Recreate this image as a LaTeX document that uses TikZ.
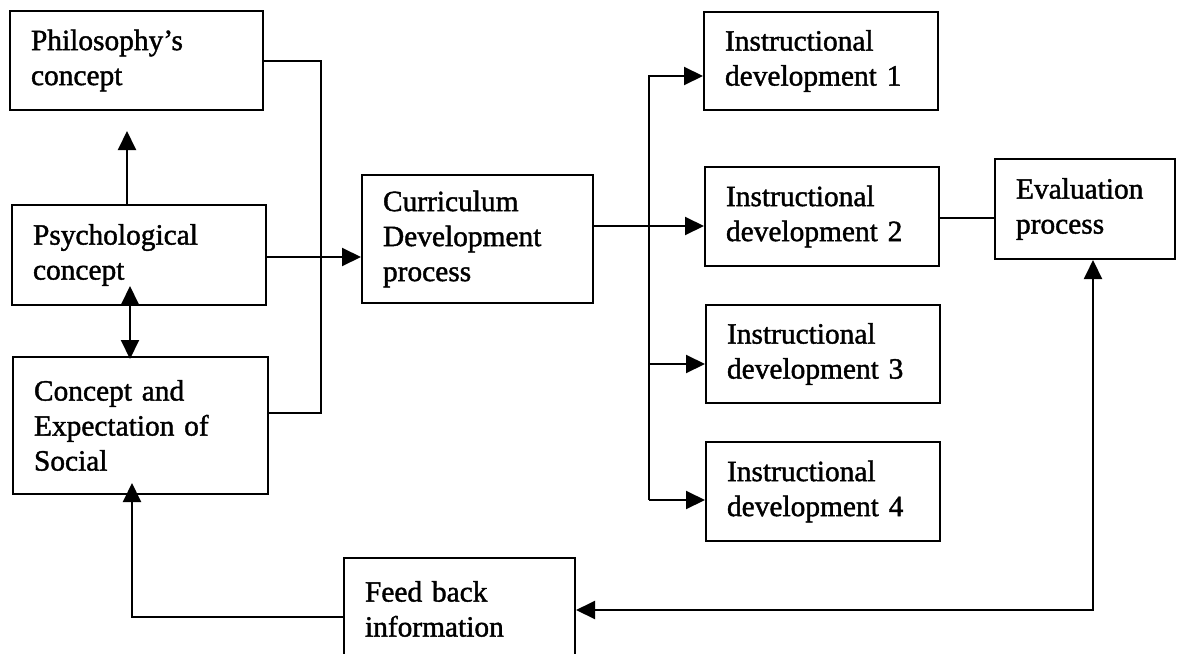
\documentclass[tikz,border=0pt]{standalone}
\usepackage{fontspec}
\setmainfont[FakeBold=1.4]{Liberation Serif}
\usetikzlibrary{arrows.meta,calc}
\tikzset{
  box/.style={draw, line width=2pt, rectangle, align=left, inner xsep=21pt, inner ysep=0pt,
    font=\fontsize{29.4}{35}\selectfont},
  conn/.style={line width=2pt},
  arr/.style={conn, -{Triangle[length=19pt,width=18pt]}},
  arrs/.style={conn, {Triangle[length=19pt,width=18pt]}-{Triangle[length=19pt,width=18pt]}},
}
\begin{document}
\begin{tikzpicture}[x=1pt, y=-1pt]
\useasboundingbox (0,0) rectangle (1177,653);
% left column
\node[box, minimum width=253pt, minimum height=99pt, text width=211pt] (phil) at (136.5,60.5) {Philosophy’s\\concept};
\node[box, minimum width=254pt, minimum height=100pt, text width=212pt] (psych) at (139,255) {Psychological\\concept};
\node[box, minimum width=255pt, minimum height=137pt, text width=213pt] (social) at (140.5,425.5) {Concept and\\Expectation of\\Social};
% middle
\node[box, minimum width=231pt, minimum height=128pt, text width=189pt] (curr) at (477.5,239) {Curriculum\\Development\\process};
\node[box, minimum width=231pt, minimum height=102pt, text width=189pt] (feed) at (459.5,609) {Feed back\\information};
% instructional
\node[box, minimum width=234pt, minimum height=98pt, text width=192pt] (id1) at (821,61) {Instructional\\development 1};
\node[box, minimum width=234pt, minimum height=99pt, text width=192pt] (id2) at (822,216.5) {Instructional\\development 2};
\node[box, minimum width=234pt, minimum height=98pt, text width=192pt] (id3) at (823,354) {Instructional\\development 3};
\node[box, minimum width=234pt, minimum height=99pt, text width=192pt] (id4) at (823,491.5) {Instructional\\development 4};
\node[box, minimum width=180pt, minimum height=100pt, text width=138pt] (eval) at (1085,209) {Evaluation\\process};
% connectors left
\coordinate (j1) at (321,413);
\draw[conn] (phil.east) -| (j1) -- (j1 -| social.east);
\draw[arr] ($(psych.east)+(0,2)$) -- ($(curr.west)+(0,18)$);
\draw[arr] ($(psych.north)+(-12,0)$) -- ($(phil.south)+(-9.5,20)$);
\draw[arrs] ($(psych.south)+(-9,-20)$) -- ($(social.north)+(-10.5,3)$);
\draw[arr] ($(feed.west)+(0,8)$) -| ($(social.south)+(-8.5,-12)$);
% branches
\draw[arr] ($(curr.east)+(0,-13)$) -- ($(id2.west)+(0,9.5)$);
\coordinate (bt) at (649,76);
\coordinate (b3) at (649,364);
\coordinate (bb) at (649,500);
\draw[arr] (bb) -- (bt) -- (bt -| id1.west);
\draw[arr] (b3) -- (b3 -| id3.west);
\draw[arr] (bb) -- (bb -| id4.west);
\coordinate (e2) at ($(id2.east)+(0,1.5)$);
\draw[conn] (e2) -- (e2 -| eval.west);
% feedback loop
\coordinate (ev1) at (1093,610);
\draw[arrs] (feed.east |- ev1) -- (ev1) -- ($(eval.south)+(8,0)$);
\end{tikzpicture}
\end{document}
